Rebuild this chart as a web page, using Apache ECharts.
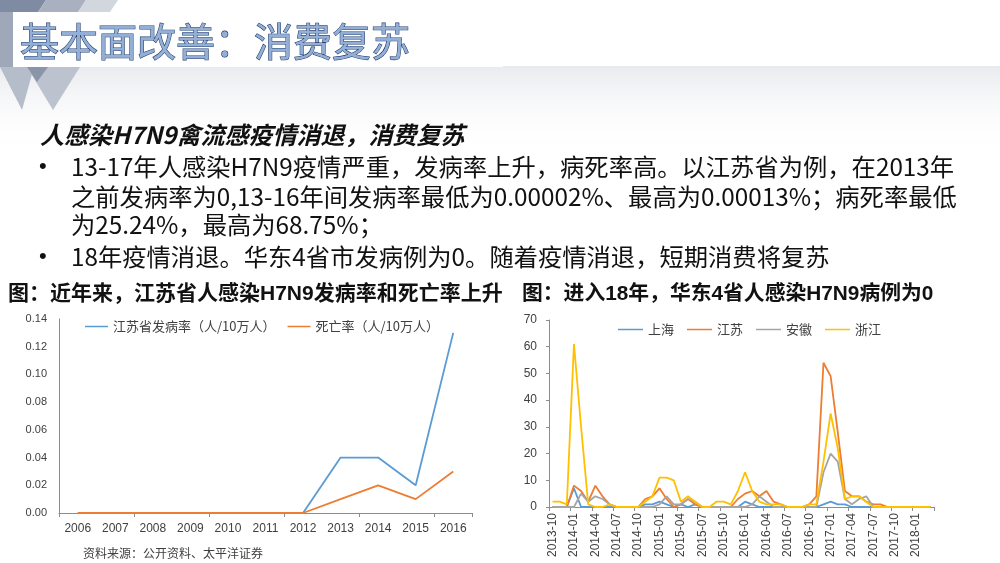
<!DOCTYPE html>
<html><head><meta charset="utf-8">
<script src="https://cdn.jsdelivr.net/npm/echarts@6/dist/echarts.min.js"></script>
<style>html,body{margin:0;padding:0;background:#fff}#c{width:1000px;height:563px}</style>
</head><body><div id="c"></div>
<script>
// ---- Left chart data ----
const years = ['2006','2007','2008','2009','2010','2011','2012','2013','2014','2015','2016'];
const jsIncidence = [0,0,0,0,0,0,0,0.04,0.04,0.02,0.13];
const jsDeath = [0,0,0,0,0,0,0,0.01,0.02,0.01,0.03];
const leftNames = ['江苏省发病率（人/10万人）','死亡率（人/10万人）'];

// ---- Right chart data ----
const months = ['2013-10','2013-11','2013-12',
 '2014-01','2014-02','2014-03','2014-04','2014-05','2014-06','2014-07','2014-08','2014-09','2014-10','2014-11','2014-12',
 '2015-01','2015-02','2015-03','2015-04','2015-05','2015-06','2015-07','2015-08','2015-09','2015-10','2015-11','2015-12',
 '2016-01','2016-02','2016-03','2016-04','2016-05','2016-06','2016-07','2016-08','2016-09','2016-10','2016-11','2016-12',
 '2017-01','2017-02','2017-03','2017-04','2017-05','2017-06','2017-07','2017-08','2017-09','2017-10','2017-11','2017-12',
 '2018-01','2018-02','2018-03'];
const shanghai = [0,0,0,7,0,0,0,0,0,0, 0,0,0,1,1,2,1,0,1,0, 1,0,0,0,0,0,0,2,1,0, 0,0,0,0,0,0,0,0,1,2, 1,1,0,0,0,0,0,0,0,0, 0,0,0,0];
const jiangsu  = [0,0,0,8,6,2,8,4,1,0, 0,0,0,3,4,7,3,0,1,3, 1,0,0,0,0,0,3,5,6,4, 6,2,1,0,0,0,1,4,54,49, 28,6,4,4,2,1,1,0,0,0, 0,0,0,0];
const anhui    = [0,0,0,0,5,2,4,3,1,0, 0,0,0,0,0,1,4,1,1,3, 2,0,0,0,0,0,0,0,1,4, 2,0,0,0,0,0,0,0,13,20, 17,3,1,3,4,0,0,0,0,0, 0,0,0,0];
const zhejiang = [2,2,1,61,30,1,0,0,1,0, 0,0,0,2,4,11,11,10,2,4, 2,0,0,2,2,1,6,13,6,2, 1,1,1,0,0,0,1,1,17,35, 22,3,4,4,2,0,0,0,0,0, 0,0,0,0];
const rightNames = ['上海','江苏','安徽','浙江'];

// ---- Texts ----
const slideTitle = '基本面改善：消费复苏';
const subTitle = '人感染H7N9禽流感疫情消退，消费复苏';
const bulletLines = [
  '13-17年人感染H7N9疫情严重，发病率上升，病死率高。以江苏省为例，在2013年',
  '之前发病率为0,13-16年间发病率最低为0.00002%、最高为0.00013%；病死率最低',
  '为25.24%，最高为68.75%；',
  '18年疫情消退。华东4省市发病例为0。随着疫情消退，短期消费将复苏'
];
const leftCaption = '图：近年来，江苏省人感染H7N9发病率和死亡率上升';
const rightCaption = '图：进入18年，华东4省人感染H7N9病例为0';
const sourceText = '资料来源：公开资料、太平洋证券';

const CJK = '"Noto Sans CJK SC", sans-serif';
const LAT = '"Liberation Sans", "Noto Sans CJK SC", sans-serif';
const axisGray = '#8c8c8c';
const labelColor = '#404040';

const chart = echarts.init(document.getElementById('c'));

const lineY = [167, 197, 225, 257];
const bulletGraphics = bulletLines.map((t, i) => ({
  type: 'text', x: 71, y: lineY[i],
  style: { text: t, fontSize: 24.3, fontFamily: CJK, fill: '#111', verticalAlign: 'middle' }
}));

const option = {
  animation: false,
  backgroundColor: '#fff',
  graphic: [
    { type: 'rect', shape: { x: 0, y: 66, width: 1000, height: 90 },
      style: { fill: new echarts.graphic.LinearGradient(0, 0, 0, 1, [
        { offset: 0, color: 'rgba(215,218,224,0.55)' }, { offset: 1, color: 'rgba(255,255,255,0)' }]) } },
    { type: 'polygon', shape: { points: [[0,0],[46,0],[38,12],[0,12]] }, style: { fill: '#7e8ba3' } },
    { type: 'polygon', shape: { points: [[46,0],[86,0],[78,12],[38,12]] }, style: { fill: '#a9b1c0' } },
    { type: 'polygon', shape: { points: [[86,0],[118,0],[110,12],[78,12]] }, style: { fill: '#d2d6dd' } },
    { type: 'rect', shape: { x: 0, y: 12, width: 13, height: 55 }, style: { fill: '#9ea8b9' } },
    { type: 'polygon', shape: { points: [[0,67],[34,67],[22,110]] }, style: { fill: '#b6bdca' } },
    { type: 'polygon', shape: { points: [[27,67],[80,67],[53,110]] }, style: { fill: '#bcc3cf' } },
    { type: 'polygon', shape: { points: [[27,67],[48,67],[37,82]] }, style: { fill: '#8a95a9' } },
    { type: 'rect', shape: { x: 13, y: 12, width: 490, height: 55 }, style: { fill: '#ffffff' } },
    { type: 'text', x: 20, y: 41,
      style: { text: slideTitle, fontSize: 39, fontFamily: CJK, fill: '#93afd6', stroke: '#1f3a6b', lineWidth: 1.1, verticalAlign: 'middle' } },
    { type: 'text', x: 40, y: 135,
      style: { text: subTitle, fontSize: 24, fontFamily: CJK, fontWeight: 'bold', fontStyle: 'italic', fill: '#111', verticalAlign: 'middle' } },
    { type: 'text', x: 39, y: 167, style: { text: '•', fontSize: 22, fontFamily: LAT, fill: '#111', verticalAlign: 'middle' } },
    { type: 'text', x: 39, y: 257, style: { text: '•', fontSize: 22, fontFamily: LAT, fill: '#111', verticalAlign: 'middle' } },
    ...bulletGraphics,
    { type: 'text', x: 8, y: 294,
      style: { text: leftCaption, fontSize: 21, fontFamily: LAT, fontWeight: 'bold', fill: '#111', verticalAlign: 'middle' } },
    { type: 'text', x: 522, y: 294,
      style: { text: rightCaption, fontSize: 20.8, fontFamily: LAT, fontWeight: 'bold', fill: '#111', verticalAlign: 'middle' } },
    { type: 'text', x: 83, y: 553,
      style: { text: sourceText, fontSize: 12, fontFamily: CJK, fill: labelColor, verticalAlign: 'middle' } }
  ],
  legend: [
    { data: leftNames, left: 80, top: 315, icon: 'rect', itemWidth: 23, itemHeight: 1.5, itemGap: 12,
      textStyle: { fontSize: 13, fontFamily: CJK, color: labelColor } },
    { data: rightNames, left: 613, top: 318, icon: 'rect', itemWidth: 25, itemHeight: 1.5, itemGap: 13,
      textStyle: { fontSize: 13, fontFamily: CJK, color: labelColor } }
  ],
  grid: [
    { left: 59, right: 528, top: 319, bottom: 50, containLabel: false },
    { left: 549, right: 66, top: 320, bottom: 56, containLabel: false }
  ],
  xAxis: [
    { type: 'category', gridIndex: 0, data: years, boundaryGap: true,
      axisLine: { lineStyle: { color: axisGray } },
      axisTick: { show: true, interval: 1, length: 4, lineStyle: { color: axisGray } },
      axisLabel: { fontSize: 12, fontFamily: LAT, color: labelColor, interval: 0, margin: 10 } },
    { type: 'category', gridIndex: 1, data: months, boundaryGap: true,
      axisLine: { lineStyle: { color: axisGray } },
      axisTick: { show: true, interval: 2, length: 4, lineStyle: { color: axisGray } },
      axisLabel: { fontSize: 12, fontFamily: LAT, color: labelColor, interval: 2, rotate: 90, margin: 6 } }
  ],
  yAxis: [
    { type: 'value', gridIndex: 0, min: 0, max: 0.14, interval: 0.02,
      axisLine: { show: true, lineStyle: { color: axisGray } }, axisTick: { show: false },
      splitLine: { show: false },
      axisLabel: { fontSize: 11, fontFamily: LAT, color: labelColor, margin: 12, formatter: v => v.toFixed(2) } },
    { type: 'value', gridIndex: 1, min: 0, max: 70, interval: 10,
      axisLine: { show: true, lineStyle: { color: axisGray } },
      axisTick: { show: true, length: 3, lineStyle: { color: axisGray } },
      splitLine: { show: false },
      axisLabel: { fontSize: 12, fontFamily: LAT, color: labelColor, margin: 12 } }
  ],
  series: [
    { name: leftNames[0], type: 'line', xAxisIndex: 0, yAxisIndex: 0, data: jsIncidence, symbol: 'none',
      lineStyle: { color: '#5b9bd5', width: 1.8 }, itemStyle: { color: '#5b9bd5' } },
    { name: leftNames[1], type: 'line', xAxisIndex: 0, yAxisIndex: 0, data: jsDeath, symbol: 'none',
      lineStyle: { color: '#ed7d31', width: 1.8 }, itemStyle: { color: '#ed7d31' } },
    { name: rightNames[0], type: 'line', xAxisIndex: 1, yAxisIndex: 1, data: shanghai, symbol: 'none',
      lineStyle: { color: '#5b9bd5', width: 1.8 }, itemStyle: { color: '#5b9bd5' } },
    { name: rightNames[1], type: 'line', xAxisIndex: 1, yAxisIndex: 1, data: jiangsu, symbol: 'none',
      lineStyle: { color: '#ed7d31', width: 1.8 }, itemStyle: { color: '#ed7d31' } },
    { name: rightNames[2], type: 'line', xAxisIndex: 1, yAxisIndex: 1, data: anhui, symbol: 'none',
      lineStyle: { color: '#a5a5a5', width: 1.8 }, itemStyle: { color: '#a5a5a5' } },
    { name: rightNames[3], type: 'line', xAxisIndex: 1, yAxisIndex: 1, data: zhejiang, symbol: 'none',
      lineStyle: { color: '#ffc000', width: 1.8 }, itemStyle: { color: '#ffc000' } }
  ]
};
chart.setOption(option);
</script>
</body></html>
